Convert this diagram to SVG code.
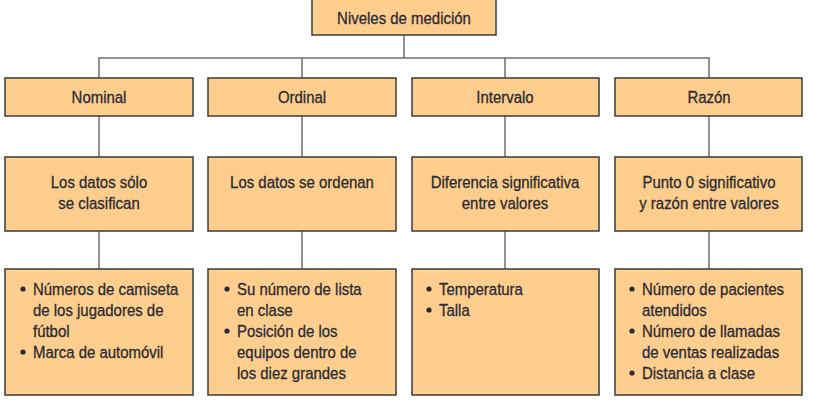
<svg xmlns="http://www.w3.org/2000/svg" width="817" height="400" viewBox="0 0 817 400">
<style>
.box{fill:#FDCE8D;stroke:#3a3a3a;stroke-width:1.5}
.t{font-family:"Liberation Sans",Arial,sans-serif;font-size:17px;fill:#2a2a33;stroke:#2a2a33;stroke-width:0.3}
.c{text-anchor:middle}
.ln{stroke:#6e6e6e;stroke-width:1.5;fill:none}
.b{fill:#2a2a33}
</style>
<rect width="817" height="400" fill="#ffffff"/>
<g id="connectors">
<line class="ln" x1="404" y1="35" x2="404" y2="58"/>
<polyline class="ln" points="99,78 99,58 709,58 709,78"/>
<line class="ln" x1="302" y1="58" x2="302" y2="78"/>
<line class="ln" x1="505" y1="58" x2="505" y2="78"/>
<line class="ln" x1="99" y1="116" x2="99" y2="157"/>
<line class="ln" x1="302" y1="116" x2="302" y2="157"/>
<line class="ln" x1="505" y1="116" x2="505" y2="157"/>
<line class="ln" x1="709" y1="116" x2="709" y2="157"/>
<line class="ln" x1="99" y1="231" x2="99" y2="269"/>
<line class="ln" x1="302" y1="231" x2="302" y2="269"/>
<line class="ln" x1="505" y1="231" x2="505" y2="269"/>
<line class="ln" x1="709" y1="231" x2="709" y2="269"/>
</g>
<g id="root"><rect class="box" x="312" y="-1" width="184" height="36"/><text class="t c" transform="translate(404,24) scale(.88,1)">Niveles de medición</text></g>
<g id="nominal"><rect class="box" x="5" y="78" width="188" height="38"/><text class="t c" transform="translate(99,103) scale(.88,1)">Nominal</text></g>
<g id="ordinal"><rect class="box" x="208" y="78" width="188" height="38"/><text class="t c" transform="translate(302,103) scale(.88,1)">Ordinal</text></g>
<g id="intervalo"><rect class="box" x="412" y="78" width="187" height="38"/><text class="t c" transform="translate(505,103) scale(.88,1)">Intervalo</text></g>
<g id="razon"><rect class="box" x="615" y="78" width="187" height="38"/><text class="t c" transform="translate(709,103) scale(.88,1)">Razón</text></g>
<g id="nominal-def"><rect class="box" x="5" y="157" width="188" height="74"/><text class="t c" transform="translate(99,188) scale(.88,1)">Los datos sólo</text><text class="t c" transform="translate(99,209) scale(.88,1)">se clasifican</text></g>
<g id="ordinal-def"><rect class="box" x="208" y="157" width="188" height="74"/><text class="t c" transform="translate(302,188) scale(.88,1)">Los datos se ordenan</text></g>
<g id="intervalo-def"><rect class="box" x="412" y="157" width="187" height="74"/><text class="t c" transform="translate(505,188) scale(.88,1)">Diferencia significativa</text><text class="t c" transform="translate(505,209) scale(.88,1)">entre valores</text></g>
<g id="razon-def"><rect class="box" x="615" y="157" width="187" height="74"/><text class="t c" transform="translate(709,188) scale(.88,1)">Punto 0 significativo</text><text class="t c" transform="translate(709,209) scale(.88,1)">y razón entre valores</text></g>
<g id="nominal-ej"><rect class="box" x="5" y="269" width="188" height="126"/>
<circle class="b" cx="23" cy="289" r="2.6"/><text class="t" transform="translate(33,295) scale(.88,1)">Números de camiseta</text>
<text class="t" transform="translate(33,316) scale(.88,1)">de los jugadores de</text>
<text class="t" transform="translate(33,337) scale(.88,1)">fútbol</text>
<circle class="b" cx="23" cy="352" r="2.6"/><text class="t" transform="translate(33,358) scale(.88,1)">Marca de automóvil</text></g>
<g id="ordinal-ej"><rect class="box" x="208" y="269" width="188" height="126"/>
<circle class="b" cx="227" cy="289" r="2.6"/><text class="t" transform="translate(237,295) scale(.88,1)">Su número de lista</text>
<text class="t" transform="translate(237,316) scale(.88,1)">en clase</text>
<circle class="b" cx="227" cy="331" r="2.6"/><text class="t" transform="translate(237,337) scale(.88,1)">Posición de los</text>
<text class="t" transform="translate(237,358) scale(.88,1)">equipos dentro de</text>
<text class="t" transform="translate(237,379) scale(.88,1)">los diez grandes</text></g>
<g id="intervalo-ej"><rect class="box" x="412" y="269" width="187" height="126"/>
<circle class="b" cx="429" cy="289" r="2.6"/><text class="t" transform="translate(439,295) scale(.88,1)">Temperatura</text>
<circle class="b" cx="429" cy="310" r="2.6"/><text class="t" transform="translate(439,316) scale(.88,1)">Talla</text></g>
<g id="razon-ej"><rect class="box" x="615" y="269" width="187" height="126"/>
<circle class="b" cx="632" cy="289" r="2.6"/><text class="t" transform="translate(642,295) scale(.88,1)">Número de pacientes</text>
<text class="t" transform="translate(642,316) scale(.88,1)">atendidos</text>
<circle class="b" cx="632" cy="331" r="2.6"/><text class="t" transform="translate(642,337) scale(.88,1)">Número de llamadas</text>
<text class="t" transform="translate(642,358) scale(.88,1)">de ventas realizadas</text>
<circle class="b" cx="632" cy="373" r="2.6"/><text class="t" transform="translate(642,379) scale(.88,1)">Distancia a clase</text></g>
</svg>
